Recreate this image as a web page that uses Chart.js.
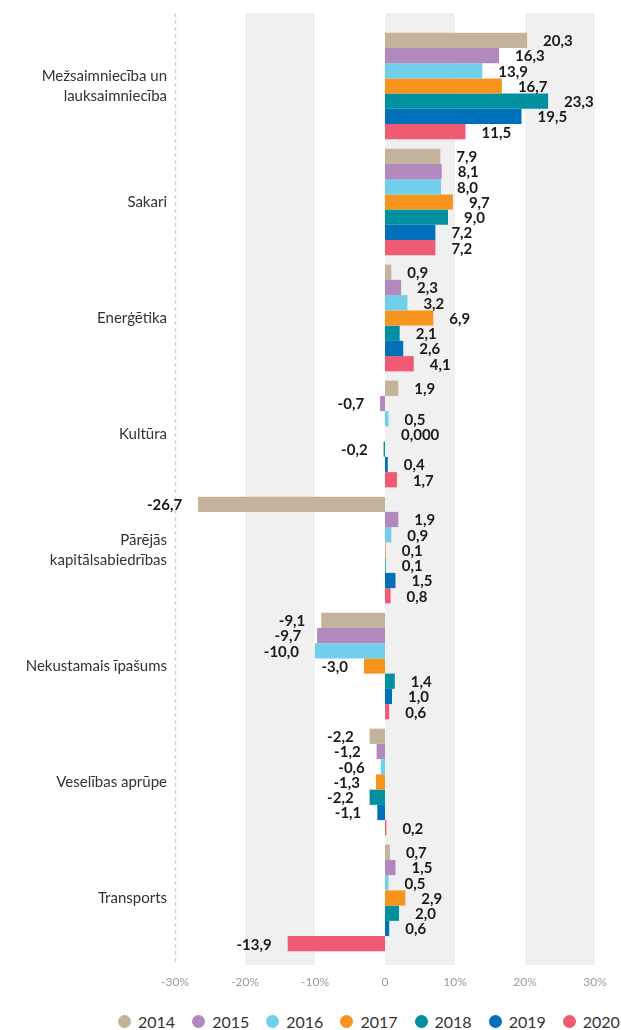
<!DOCTYPE html>
<html lang="lv">
<head>
    <meta charset="UTF-8">
    <title>Nozaru rentabilitāte</title>
    <script src="https://cdn.jsdelivr.net/npm/chart.js"></script>
    <style>
        html, body { margin: 0; padding: 0; background: #fff; overflow: hidden; }
        .wrap { position: relative; width: 621px; height: 1030px; }
        .chart-box { position: absolute; left: 0; top: 0; width: 621px; height: 1000px; }
        .legend {
            position: absolute; left: 118px; top: 1012px;
            display: flex; white-space: nowrap;
            font-family: Lato, sans-serif; font-size: 16px; color: #333;
        }
        .legend-item { display: flex; align-items: center; margin-right: 17px; }
        .legend-dot { width: 13px; height: 13px; border-radius: 50%; margin-right: 7px; }
    </style>
</head>
<body>
<div class="wrap">
    <div class="chart-box"><canvas id="myChart"></canvas></div>
    <div class="legend" id="legend"></div>
</div>

<script>
    const categories = [
        ['Mežsaimniecība un', 'lauksaimniecība'],
        'Sakari',
        'Enerģētika',
        'Kultūra',
        ['Pārējās', 'kapitālsabiedrības'],
        'Nekustamais īpašums',
        'Veselības aprūpe',
        'Transports'
    ];
    const years = ['2014', '2015', '2016', '2017', '2018', '2019', '2020'];
    const colors = ['#c2b39a', '#b189be', '#70cfea', '#f7941e', '#00909f', '#0070ba', '#f05a72'];

    // values per year, same order as categories
    const v2014 = [20.3, 7.9, 0.9, 1.9, -26.7, -9.1, -2.2, 0.7];
    const v2015 = [16.3, 8.1, 2.3, -0.7, 1.9, -9.7, -1.2, 1.5];
    const v2016 = [13.9, 8.0, 3.2, 0.5, 0.9, -10.0, -0.6, 0.5];
    const v2017 = [16.7, 9.7, 6.9, 0.0, 0.1, -3.0, -1.3, 2.9];
    const v2018 = [23.3, 9.0, 2.1, -0.2, 0.1, 1.4, -2.2, 2.0];
    const v2019 = [19.5, 7.2, 2.6, 0.4, 1.5, 1.0, -1.1, 0.6];
    const v2020 = [11.5, 7.2, 4.1, 1.7, 0.8, 0.6, 0.2, -13.9];
    const series = [v2014, v2015, v2016, v2017, v2018, v2019, v2020];

    const xTicks = [-30, -20, -10, 0, 10, 20, 30];
    const bands = [[-20, -10], [0, 10], [20, 30]];

    function fmt(v) {
        if (v === 0) return '0,000';
        return v.toFixed(1).replace('.', ',');
    }

    // grey bands + dashed left line, drawn behind the bars
    const bandsPlugin = {
        id: 'bands',
        beforeDatasetsDraw(chart) {
            const { ctx, chartArea, scales: { x } } = chart;
            const top = chartArea.top - 15;
            const bottom = chartArea.bottom + 9;
            ctx.save();
            ctx.fillStyle = '#f0f0f0';
            bands.forEach(([a, b]) => {
                const x1 = x.getPixelForValue(a);
                const x2 = x.getPixelForValue(b);
                ctx.fillRect(x1, top, x2 - x1, bottom - top);
            });
            const lx = Math.round(x.getPixelForValue(xTicks[0])) + 0.5;
            ctx.strokeStyle = '#d4d4d4';
            ctx.lineWidth = 1.5;
            ctx.setLineDash([4, 3]);
            ctx.beginPath();
            ctx.moveTo(lx, top);
            ctx.lineTo(lx, bottom);
            ctx.stroke();
            ctx.restore();
        }
    };

    // value labels next to the bar ends
    const valueLabels = {
        id: 'valueLabels',
        afterDatasetsDraw(chart) {
            const ctx = chart.ctx;
            ctx.save();
            ctx.font = 'bold 15px Lato, sans-serif';
            ctx.fillStyle = '#1a1a1a';
            ctx.textBaseline = 'middle';
            chart.data.datasets.forEach((ds, i) => {
                const meta = chart.getDatasetMeta(i);
                meta.data.forEach((bar, j) => {
                    const v = ds.data[j];
                    if (v < 0) {
                        ctx.textAlign = 'right';
                        ctx.fillText(fmt(v), bar.x - 16, bar.y + 1);
                    } else {
                        ctx.textAlign = 'left';
                        ctx.fillText(fmt(v), bar.x + 16, bar.y + 1);
                    }
                });
            });
            ctx.restore();
        }
    };

    const ctx = document.getElementById('myChart').getContext('2d');
    const myChart = new Chart(ctx, {
        type: 'bar',
        data: {
            labels: categories,
            datasets: years.map((y, i) => ({
                label: y,
                data: series[i],
                backgroundColor: colors[i],
                borderWidth: 0,
                categoryPercentage: 0.92,
                barPercentage: 1
            }))
        },
        options: {
            indexAxis: 'y',
            responsive: true,
            maintainAspectRatio: false,
            animation: false,
            layout: { padding: { top: 28, right: 26, left: 0, bottom: 0 } },
            plugins: {
                legend: { display: false },
                tooltip: { enabled: false }
            },
            scales: {
                x: {
                    min: -30,
                    max: 30,
                    afterBuildTicks(scale) {
                        scale.ticks = xTicks.map(v => ({ value: v }));
                    },
                    afterFit(scale) {
                        scale.height = 44;
                        scale.paddingLeft = 0;
                        scale.paddingRight = 0;
                    },
                    grid: { display: false, drawTicks: false },
                    border: { display: false },
                    ticks: {
                        padding: 19,
                        color: '#9a9a9a',
                        font: { family: 'Lato', size: 12 },
                        callback: v => v === 0 ? '0' : v + '%'
                    }
                },
                y: {
                    afterFit(scale) { scale.width = 175; },
                    grid: { display: false, drawTicks: false },
                    border: { display: false },
                    ticks: {
                        padding: 8,
                        color: '#333333',
                        font: { family: 'Lato', size: 15, lineHeight: 1.33 }
                    }
                }
            }
        },
        plugins: [bandsPlugin, valueLabels]
    });

    // legend
    const legend = document.getElementById('legend');
    years.forEach((y, i) => {
        const item = document.createElement('div');
        item.className = 'legend-item';
        item.innerHTML = '<div class="legend-dot" style="background-color:' + colors[i] + '"></div><span>' + y + '</span>';
        legend.appendChild(item);
    });
</script>
</body>
</html>
